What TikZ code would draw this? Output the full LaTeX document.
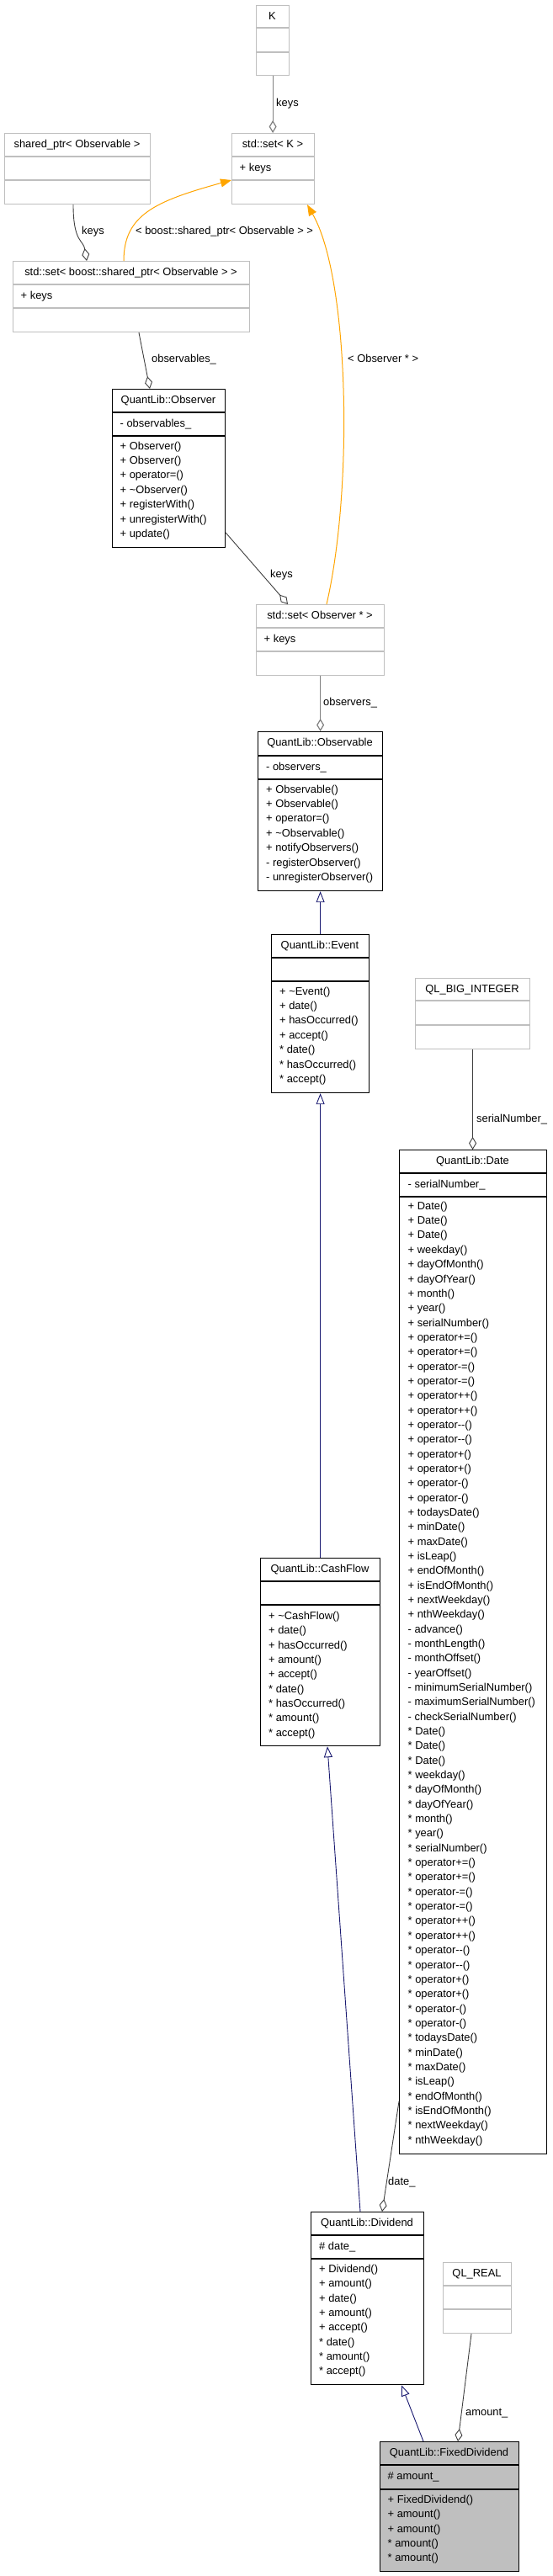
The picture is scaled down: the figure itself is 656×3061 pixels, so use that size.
\documentclass[tikz,border=0pt]{standalone}
\usepackage{fontspec}
\setmainfont{Liberation Sans}
\usetikzlibrary{arrows.meta}
\definecolor{boxgray}{HTML}{BFBFBF}
\definecolor{edgedark}{HTML}{404040}
\definecolor{edgegray}{HTML}{808080}
\definecolor{inhblue}{HTML}{191970}
\definecolor{tmplorange}{HTML}{FFA500}
\definecolor{fillgray}{HTML}{BFBFBF}

\newcommand{\umlclass}[9]{%
  \node[#8, anchor=north west, minimum width={#4-#2}, minimum height={#5-#3}] (#1) at (#2,#3) {};
  \draw[#8line] (#2,#6) -- (#4,#6) (#2,#7) -- (#4,#7);
  \node[ttl] (#1-title) at ({(#2+#4)/2},{#3+14}) {#9};
}
\newcommand{\umlmembers}[4]{%
  \foreach \mtext [count=\mi from 0] in {#4} {\node[mem] (#1-\mi) at (#2,{#3+17.34*\mi}) {\mtext};}
}

\begin{document}
\begin{tikzpicture}[x=1pt,y=-1pt,
  font=\fontsize{12.9}{15}\selectfont,
  blackbox/.style={draw=black, line width=1.2pt, fill=white, inner sep=0pt},
  blackboxline/.style={draw=black, line width=1.2pt},
  graybox/.style={draw=boxgray, line width=1.2pt, fill=white, inner sep=0pt},
  grayboxline/.style={draw=boxgray, line width=1.2pt},
  mainbox/.style={draw=black, line width=1.2pt, fill=fillgray, inner sep=0pt},
  mainboxline/.style={draw=black, line width=1.2pt},
  ttl/.style={inner sep=0pt, text height=9.3pt, text depth=2.7pt},
  mem/.style={anchor=west, inner sep=0pt, text height=9.3pt, text depth=2.7pt},
  lbl/.style={anchor=west, inner sep=0pt, text height=9.3pt, text depth=2.7pt},
  aggr/.style={draw=edgedark, line width=0.9pt, -{Diamond[open, length=15pt, width=9pt, line width=0.9pt]}},
  aggrgray/.style={draw=edgegray, line width=1.2pt, -{Diamond[open, length=15pt, width=9pt, line width=1.2pt]}},
  inh/.style={draw=inhblue, line width=0.9pt, -{Triangle[open, length=13pt, width=10pt, line width=0.9pt]}},
  tmpl/.style={draw=tmplorange, line width=1pt, -{Triangle[length=13pt, width=10pt]}}]

\fill[white] (0,0) rectangle (656,3061);
\useasboundingbox (0,0) rectangle (656,3061);

% ---------- classes ----------
\umlclass{K}{304}{6}{343}{89}{33}{62}{graybox}{K}

\umlclass{setK}{275}{158}{373}{242}{186}{214}{graybox}{std::set< K >}
\node[mem] (setK-a) at (284.5,200) {+ keys};

\umlclass{shptr}{5}{158}{178}{242}{186}{214}{graybox}{shared\_ptr< Observable >}

\umlclass{setShared}{15}{310}{296}{394}{338}{366}{graybox}{std::set< boost::shared\_ptr< Observable > >}
\node[mem] (setShared-a) at (24.5,352) {+ keys};

\umlclass{Observer}{133}{462}{267}{650}{490}{518}{blackbox}{QuantLib::Observer}
\node[mem] (Observer-a) at (142.5,504) {- observables\_};
\umlmembers{Observer}{142.5}{531}{+ Observer(), + Observer(), + operator=(), + \textasciitilde{}Observer(), + registerWith(), + unregisterWith(), + update()}

\umlclass{setObs}{304}{718}{456}{802}{746}{774}{graybox}{std::set< Observer * >}
\node[mem] (setObs-a) at (313.5,760) {+ keys};

\umlclass{Observable}{306}{869}{454}{1058}{898}{926}{blackbox}{QuantLib::Observable}
\node[mem] (Observable-a) at (316,912) {- observers\_};
\umlmembers{Observable}{316}{939}{+ Observable(), + Observable(), + operator=(), + \textasciitilde{}Observable(), + notifyObservers(), - registerObserver(), - unregisterObserver()}

\umlclass{Event}{322}{1110}{438}{1298}{1138}{1166}{blackbox}{QuantLib::Event}
\umlmembers{Event}{332}{1179}{+ \textasciitilde{}Event(), + date(), + hasOccurred(), + accept(), * date(), * hasOccurred(), * accept()}

\umlclass{QLBig}{493}{1162}{629}{1246}{1189}{1218}{graybox}{QL\_BIG\_INTEGER}

\umlclass{Date}{474}{1366}{649}{2559}{1394}{1422}{blackbox}{QuantLib::Date}
\node[mem] (Date-a) at (484.5,1408) {- serialNumber\_};
\umlmembers{Date}{484.5}{1434}{+ Date(), + Date(), + Date(), + weekday(), + dayOfMonth(), + dayOfYear(), + month(), + year(), + serialNumber(), + operator+=(), + operator+=(), + operator-=(), + operator-=(), + operator++(), + operator++(), + operator-{}-(), + operator-{}-(), + operator+(), + operator+(), + operator-(), + operator-(), + todaysDate(), + minDate(), + maxDate(), + isLeap(), + endOfMonth(), + isEndOfMonth(), + nextWeekday(), + nthWeekday(), - advance(), - monthLength(), - monthOffset(), - yearOffset(), - minimumSerialNumber(), - maximumSerialNumber(), - checkSerialNumber(), * Date(), * Date(), * Date(), * weekday(), * dayOfMonth(), * dayOfYear(), * month(), * year(), * serialNumber(), * operator+=(), * operator+=(), * operator-=(), * operator-=(), * operator++(), * operator++(), * operator-{}-(), * operator-{}-(), * operator+(), * operator+(), * operator-(), * operator-(), * todaysDate(), * minDate(), * maxDate(), * isLeap(), * endOfMonth(), * isEndOfMonth(), * nextWeekday(), * nthWeekday()}

\umlclass{CashFlow}{309}{1851}{451}{2074}{1879}{1907}{blackbox}{QuantLib::CashFlow}
\umlmembers{CashFlow}{319}{1921}{+ \textasciitilde{}CashFlow(), + date(), + hasOccurred(), + amount(), + accept(), * date(), * hasOccurred(), * amount(), * accept()}

\umlclass{Dividend}{369}{2628}{503}{2833}{2656}{2684}{blackbox}{QuantLib::Dividend}
\node[mem] (Dividend-a) at (379,2670) {\# date\_};
\umlmembers{Dividend}{379}{2697}{+ Dividend(), + amount(), + date(), + amount(), + accept(), * date(), * amount(), * accept()}

\umlclass{QLReal}{526}{2688}{607}{2772}{2716}{2744}{graybox}{QL\_REAL}

\umlclass{Fixed}{451}{2901}{616}{3055}{2929}{2958}{mainbox}{QuantLib::FixedDividend}
\node[mem] (Fixed-a) at (460.5,2943) {\# amount\_};
\umlmembers{Fixed}{460.5}{2971}{+ FixedDividend(), + amount(), + amount(), * amount(), * amount()}

% ---------- connectors ----------
\draw[aggrgray] (K.south) -- (K.south |- setK.north);
\node[lbl] (l-keys1) at (328,123) {keys};

\draw[aggr] (87,0 |- shptr.south) .. controls +(0,45) and +(-4,-25) .. (103,0 |- setShared.north);
\node[lbl] (l-keys2) at (97,275) {keys};

\draw[tmpl] (147,0 |- setShared.north) .. controls +(0,-55) and +(-90,25) .. (setK.west |- 0,214);
\node[lbl] (l-tmpl1) at (161,275) {< boost::shared\_ptr< Observable > >};

\draw[tmpl] (388,0 |- setObs.north) .. controls (420,580) and (415,330) .. (365,0 |- setK.south);
\node[lbl] (l-tmpl2) at (413,427) {< Observer * >};

\draw[aggr] (165,0 |- setShared.south) -- (178,0 |- Observer.north);
\node[lbl] (l-obsv) at (180,427) {observables\_};

\draw[aggr] (Observer.east |- 0,633) -- (342,0 |- setObs.north);
\node[lbl] (l-keys3) at (321,683) {keys};

\draw[aggrgray] (setObs.south) -- (setObs.south |- Observable.north);
\node[lbl] (l-obsr) at (384,835) {observers\_};

\draw[inh] (Event.north) -- (Event.north |- Observable.south);
\draw[inh] (CashFlow.north) -- (CashFlow.north |- Event.south);

\draw[aggr] (QLBig.south) -- (QLBig.south |- Date.north);
\node[lbl] (l-serial) at (566,1330) {serialNumber\_};

\draw[inh] (428,0 |- Dividend.north) -- (389,0 |- CashFlow.south);

\draw[aggr] (Date.west |- 0,2497) -- (454,0 |- Dividend.north);
\node[lbl] (l-date) at (461,2593) {date\_};

\draw[aggr] (560,0 |- QLReal.south) -- (544,0 |- Fixed.north);
\node[lbl] (l-amount) at (553,2867) {amount\_};

\draw[inh] (503,0 |- Fixed.north) -- (477,0 |- Dividend.south);

\end{tikzpicture}
\end{document}
